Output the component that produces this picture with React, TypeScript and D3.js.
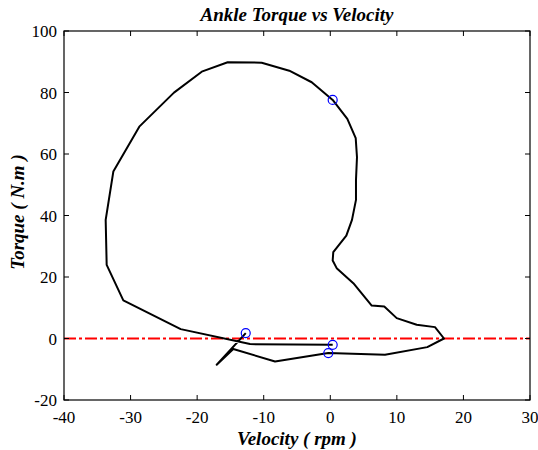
import React from "react";
import * as d3 from "d3";

// velocity (rpm) and torque (N.m) samples along one gait cycle
const velocity = [
  -12.7, -17.06, -14.57, -8.3, -0.3, 8.22, 14.57, 17.08, 15.73, 12.98, 9.98, 8.11, 6.22,
  3.46, 0.96, 0.36, 0.45, 2.41, 3.26, 3.86, 3.86, 4.01, 3.82, 2.56, 0.36, -2.79, -6.16,
  -10.3, -15.41, -19.31, -23.48, -28.69, -32.59, -33.74, -33.59, -31.09, -22.47, -12.06, 0.36,
];
const torque = [
  1.75, -8.55, -3.44, -7.47, -4.74, -5.3, -2.8, 0, 3.7, 4.45, 6.63, 10.4, 10.72,
  18.0, 22.88, 25.35, 28.08, 33.47, 38.58, 45.08, 51.58, 58.95, 65.13, 71.4, 77.58, 83.33, 87.1,
  89.7, 89.83, 86.77, 79.95, 68.9, 54.27, 38.58, 23.95, 12.41, 3.05, -1.82, -2.05,
];
// indices of the marked events (blue circles)
const markers = [0, 4, 24, 38];

const xTicks = [-40, -30, -20, -10, 0, 10, 20, 30];
const yTicks = [-20, 0, 20, 40, 60, 80, 100];

const W = 538;
const H = 450;
const left = 64;
const right = 530;
const top = 31;
const bottom = 400;
const serif = { fontFamily: "Liberation Serif, serif" };

export default function App() {
  const x = d3.scaleLinear().domain([-40, 30]).range([left, right]);
  const y = d3.scaleLinear().domain([-20, 100]).range([bottom, top]);
  const pts: [number, number][] = velocity.map((v, i) => [v, torque[i]]);
  const line = d3
    .line<[number, number]>()
    .x((d) => x(d[0]))
    .y((d) => y(d[1]));
  const tk = 5;

  return (
    <svg width={W} height={H} style={{ position: "absolute", left: 0, top: 0, background: "#fff" }}>
      <rect x={0} y={0} width={W} height={H} fill="#fff" />
      <text x={(left + right) / 2} y={21} textAnchor="middle" fontSize={19} fontWeight="bold" fontStyle="italic" style={serif}>
        Ankle Torque vs Velocity
      </text>

      {/* zero reference */}
      <line
        x1={x(-40)}
        x2={x(30)}
        y1={y(0)}
        y2={y(0)}
        stroke="#ff0000"
        strokeWidth={2}
        strokeDasharray="12,3,3,3"
      />

      <path d={line(pts) || ""} fill="none" stroke="#000" strokeWidth={2} strokeLinejoin="round" />
      {markers.map((i) => (
        <circle key={i} cx={x(velocity[i])} cy={y(torque[i])} r={4.5} fill="none" stroke="#0000ff" strokeWidth={1.2} />
      ))}

      {/* box and ticks */}
      <rect x={left} y={top} width={right - left} height={bottom - top} fill="none" stroke="#000" strokeWidth={1.2} />
      {xTicks.map((t) => (
        <g key={"x" + t}>
          <line x1={x(t)} x2={x(t)} y1={bottom} y2={bottom - tk} stroke="#000" />
          <line x1={x(t)} x2={x(t)} y1={top} y2={top + tk} stroke="#000" />
          <text x={x(t)} y={423} textAnchor="middle" fontSize={17} style={serif}>
            {t}
          </text>
        </g>
      ))}
      {yTicks.map((t) => (
        <g key={"y" + t}>
          <line x1={left} x2={left + tk} y1={y(t)} y2={y(t)} stroke="#000" />
          <line x1={right} x2={right - tk} y1={y(t)} y2={y(t)} stroke="#000" />
          <text x={57} y={y(t) + 6} textAnchor="end" fontSize={17} style={serif}>
            {t}
          </text>
        </g>
      ))}

      <text x={(left + right) / 2} y={445} textAnchor="middle" fontSize={19} fontWeight="bold" fontStyle="italic" style={serif}>
        Velocity ( rpm )
      </text>
      <text
        transform={`translate(24, 212) rotate(-90)`}
        textAnchor="middle"
        fontSize={19}
        fontWeight="bold"
        fontStyle="italic"
        style={serif}
      >
        Torque ( N.m )
      </text>
    </svg>
  );
}
